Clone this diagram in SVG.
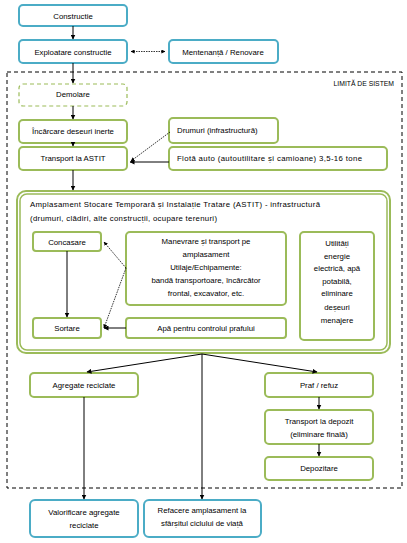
<svg xmlns="http://www.w3.org/2000/svg" width="407" height="543" viewBox="0 0 407 543">
<defs>
<marker id="ah" viewBox="0 0 10 10" refX="9" refY="5" markerWidth="5" markerHeight="5" orient="auto-start-reverse">
<path d="M0,0 L10,5 L0,10 z" fill="#000"/>
</marker>
<style>
.b{fill:#fff;stroke:#4bacc6;stroke-width:2}
.g{fill:#fff;stroke:#9bbb59;stroke-width:2}
.gd{fill:#fff;stroke:#9bbb59;stroke-width:1.2;stroke-dasharray:4 3}
.t{font-family:"Liberation Sans",Arial,sans-serif;font-size:7.8px;fill:#000;text-anchor:middle}
.tl{font-family:"Liberation Sans",Arial,sans-serif;font-size:7.8px;fill:#000}
.s{stroke:#000;stroke-width:1;fill:none;marker-end:url(#ah)}
.d{stroke:#000;stroke-width:0.8;fill:none;stroke-dasharray:1.5 1;marker-end:url(#ah)}
</style>
</defs>
<rect x="0" y="0" width="407" height="543" fill="#fff"/>
<rect x="7" y="72" width="395" height="416" fill="none" stroke="#000" stroke-width="1" stroke-dasharray="4 3"/>
<text class="tl" x="394" y="86" text-anchor="end" style="font-size:6.8px">LIMITĂ DE SISTEM</text>

<g id="constructie"><rect class="b" x="19" y="5" width="108" height="21" rx="4"/><text class="t" x="73" y="18.5">Constructie</text></g>
<g id="exploatare"><rect class="b" x="19" y="40" width="108" height="23" rx="4"/><text class="t" x="73" y="54.5">Exploatare constructie</text></g>
<g id="mentenanta"><rect class="b" x="169" y="40" width="109" height="23" rx="4"/><text class="t" x="223" y="54.5">Mentenanță / Renovare</text></g>
<g id="demolare"><rect class="gd" x="19" y="84" width="108" height="22" rx="4"/><text class="t" x="73" y="97">Demolare</text></g>
<g id="incarcare"><rect class="g" x="19" y="120" width="108" height="23" rx="4"/><text class="t" x="73" y="134">Încărcare deseuri inerte</text></g>
<g id="drumuri"><rect class="g" x="169" y="118" width="109" height="25" rx="4"/><text class="tl" x="177" y="133">Drumuri (infrastructură)</text></g>
<g id="transport"><rect class="g" x="19" y="147" width="108" height="23" rx="4"/><text class="t" x="73" y="161">Transport la ASTIT</text></g>
<g id="flota"><rect class="g" x="169" y="147" width="218" height="23" rx="4"/><text class="tl" x="177" y="161" textLength="185">Flotă auto (autoutilitare și camioane) 3,5-16 tone</text></g>

<g id="astit">
<rect class="g" x="17" y="191" width="373" height="162" rx="9" stroke-width="1.5"/>
<rect x="20" y="194" width="367" height="156" rx="7" fill="none" stroke="#9bbb59" stroke-width="1.5"/>
<text class="tl" x="30" y="207" textLength="290">Amplasament Stocare Temporară și Instalație Tratare (ASTIT) - infrastructură</text>
<text class="tl" x="30" y="221" textLength="187">(drumuri, clădiri, alte construcții, ocupare terenuri)</text>
</g>
<g id="concasare"><rect class="g" x="33" y="232" width="68" height="19" rx="3"/><text class="t" x="67" y="244.5">Concasare</text></g>
<g id="sortare"><rect class="g" x="33" y="318" width="68" height="20" rx="3"/><text class="t" x="67" y="331">Sortare</text></g>
<g id="manevrare"><rect class="g" x="126" y="232" width="160" height="73" rx="4"/>
<text class="t" x="206" y="244">Manevrare și transport pe</text>
<text class="t" x="206" y="257">amplasament</text>
<text class="t" x="206" y="270">Utilaje/Echipamente:</text>
<text class="t" x="206" y="283">bandă transportoare, încărcător</text>
<text class="t" x="206" y="296">frontal, excavator, etc.</text></g>
<g id="apa"><rect class="g" x="126" y="318" width="160" height="20" rx="3"/><text class="t" x="206" y="331">Apă pentru controlul prafului</text></g>
<g id="utilitati"><rect class="g" x="300" y="232" width="74" height="108" rx="4"/>
<text class="t" x="337" y="246">Utilități</text>
<text class="t" x="337" y="258.5">energie</text>
<text class="t" x="337" y="271">electrică, apă</text>
<text class="t" x="337" y="283.5">potabilă,</text>
<text class="t" x="337" y="296">eliminare</text>
<text class="t" x="337" y="309.5">deșeuri</text>
<text class="t" x="337" y="323">menajere</text></g>

<g id="agregate"><rect class="g" x="30" y="373" width="108" height="24" rx="4"/><text class="t" x="84" y="387.5">Agregate reciclate</text></g>
<g id="praf"><rect class="g" x="265" y="373" width="108" height="24" rx="4"/><text class="t" x="319" y="387.5">Praf / refuz</text></g>
<g id="transportdepozit"><rect class="g" x="265" y="410" width="108" height="34" rx="4"/><text class="t" x="319" y="424">Transport la depozit</text><text class="t" x="319" y="437">(eliminare finală)</text></g>
<g id="depozitare"><rect class="g" x="265" y="457" width="108" height="23" rx="4"/><text class="t" x="319" y="471">Depozitare</text></g>
<g id="valorificare"><rect class="b" x="30" y="500" width="108" height="37" rx="5"/><text class="t" x="84" y="515">Valorificare agregate</text><text class="t" x="84" y="528">reciclate</text></g>
<g id="refacere"><rect class="b" x="144" y="500" width="117" height="37" rx="5"/><text class="t" x="202" y="513">Refacere amplasament la</text><text class="t" x="202" y="526">sfârșitul ciclului de viață</text></g>

<g id="connectors">
<line class="s" x1="73" y1="26" x2="73" y2="39"/>
<line class="d" x1="165" y1="51.5" x2="131" y2="51.5" marker-start="url(#ah)"/>
<line class="s" x1="73" y1="63" x2="73" y2="83"/>
<line class="s" x1="73" y1="106" x2="73" y2="119"/>
<line class="s" x1="73" y1="143" x2="73" y2="146"/>
<line class="d" x1="170" y1="132" x2="131" y2="161"/>
<line class="s" x1="169" y1="162" x2="130" y2="162"/>
<line class="s" x1="73" y1="170" x2="73" y2="190"/>
<line class="s" x1="67" y1="251" x2="67" y2="317"/>
<line class="d" x1="126" y1="268" x2="104" y2="242"/>
<line class="d" x1="126" y1="268" x2="104" y2="328"/>
<line class="s" x1="126" y1="328" x2="104" y2="328"/>
<line class="s" x1="202" y1="354" x2="87" y2="372"/>
<line class="s" x1="202" y1="354" x2="317" y2="372"/>
<line class="s" x1="202" y1="354" x2="202" y2="499"/>
<line class="s" x1="84" y1="397" x2="84" y2="499"/>
<line class="s" x1="319" y1="397" x2="319" y2="409"/>
<line class="s" x1="319" y1="444" x2="319" y2="456"/>
</g>
</svg>
